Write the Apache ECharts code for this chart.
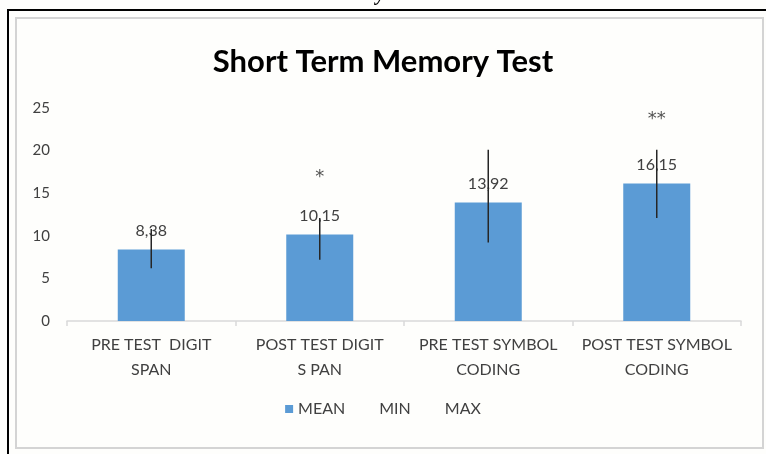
<!DOCTYPE html>
<html>
<head>
<meta charset="utf-8">
<script src="https://cdn.jsdelivr.net/npm/echarts@6/dist/echarts.min.js"></script>
<style>
  html, body { margin: 0; padding: 0; background: #fff; }
  #chart { width: 766px; height: 454px; }
</style>
</head>
<body>
<div id="chart"></div>
<script>
  // data
  var categories = ['PRE TEST  DIGIT\nSPAN', 'POST TEST DIGIT\nS PAN', 'PRE TEST SYMBOL\nCODING', 'POST TEST SYMBOL\nCODING'];
  var meanValues = [8.38, 10.15, 13.92, 16.15];
  var minValues = [6.2, 7.2, 9.2, 12.1];
  var maxValues = [10.8, 12.1, 20.1, 20.1];
  var sigMarks = ['', '*', '', '**'];
  var sigLevels = [null, 17.5, null, 24.2];
  var yTicks = [0, 5, 10, 15, 20, 25];

  var font = 'Lato, "Open Sans", sans-serif';
  var chartDom = document.getElementById('chart');
  var myChart = echarts.init(chartDom);

  var option = {
    backgroundColor: '#fefefc',
    animation: false,
    textStyle: { fontFamily: font },
    title: {
      text: 'Short Term Memory Test',
      left: 'center',
      top: 41,
      textStyle: { fontSize: 31, fontWeight: 'bold', color: '#000', fontFamily: font }
    },
    legend: {
      bottom: 32,
      left: 'center',
      itemGap: 21,
      itemWidth: 8,
      itemHeight: 8,
      textStyle: { fontSize: 16, color: '#404040', fontFamily: font },
      data: [
        { name: 'MEAN', icon: 'rect' },
        { name: 'MIN', icon: 'none' },
        { name: 'MAX', icon: 'none' }
      ]
    },
    grid: { left: 67, right: 25, top: 108, bottom: 133 },
    xAxis: {
      type: 'category',
      data: categories,
      axisLine: { lineStyle: { color: '#d9d9d9', width: 1.5 } },
      axisTick: { show: true, length: 5, lineStyle: { color: '#d9d9d9', width: 1.5 } },
      axisLabel: { color: '#404040', fontSize: 16, lineHeight: 25, margin: 11, fontFamily: font, interval: 0 }
    },
    yAxis: {
      type: 'value',
      min: yTicks[0],
      max: yTicks[yTicks.length - 1],
      interval: 5,
      splitLine: { show: false },
      axisLine: { show: false },
      axisTick: { show: false },
      axisLabel: { color: '#404040', fontSize: 15, margin: 17, fontFamily: font }
    },
    series: [
      {
        name: 'MEAN',
        type: 'bar',
        data: meanValues,
        barWidth: 67,
        itemStyle: { color: '#5b9bd5' },
        label: {
          show: true,
          position: 'top',
          distance: 11,
          fontSize: 16,
          color: '#404040',
          fontFamily: font,
          formatter: function (p) { return String(p.value).replace('.', ','); }
        },
        z: 2
      },
      {
        name: 'MIN',
        type: 'line',
        data: minValues,
        symbol: 'none',
        lineStyle: { opacity: 0 },
        itemStyle: { color: '#a5a5a5' }
      },
      {
        name: 'MAX',
        type: 'line',
        data: maxValues,
        symbol: 'none',
        lineStyle: { opacity: 0 },
        itemStyle: { color: '#ed7d31' }
      },
      {
        name: 'range',
        type: 'custom',
        z: 5,
        data: categories.map(function (c, i) { return [i, minValues[i], maxValues[i]]; }),
        renderItem: function (params, api) {
          var lo = api.coord([api.value(0), api.value(1)]);
          var hi = api.coord([api.value(0), api.value(2)]);
          return {
            type: 'line',
            shape: { x1: lo[0], y1: lo[1], x2: hi[0], y2: hi[1] },
            style: { stroke: '#262626', lineWidth: 1.5 }
          };
        }
      },
      {
        name: 'sig',
        type: 'scatter',
        symbol: 'circle',
        symbolSize: 2,
        itemStyle: { color: 'rgba(0,0,0,0)' },
        data: sigLevels,
        label: {
          show: true,
          position: 'inside',
          offset: [0, 5],
          fontSize: 18,
          color: '#262626',
          fontFamily: '"DejaVu Sans", sans-serif',
          formatter: function (p) { return sigMarks[p.dataIndex]; }
        }
      }
    ],
    graphic: [
      {
        type: 'rect',
        shape: { x: 16, y: 18, width: 747, height: 430 },
        style: { fill: 'none', stroke: '#d4d4d4', lineWidth: 2 },
        silent: true
      },
      {
        type: 'polyline',
        shape: { points: [[8, 454], [8, 10], [766, 10]] },
        style: { fill: 'none', stroke: '#000', lineWidth: 2 },
        silent: true
      },
      {
        type: 'text',
        left: 376,
        top: -15,
        style: { text: 'y', font: 'italic bold 20px "Liberation Serif", serif', fill: '#000' },
        silent: true
      }
    ]
  };

  option && myChart.setOption(option);
</script>
</body>
</html>
